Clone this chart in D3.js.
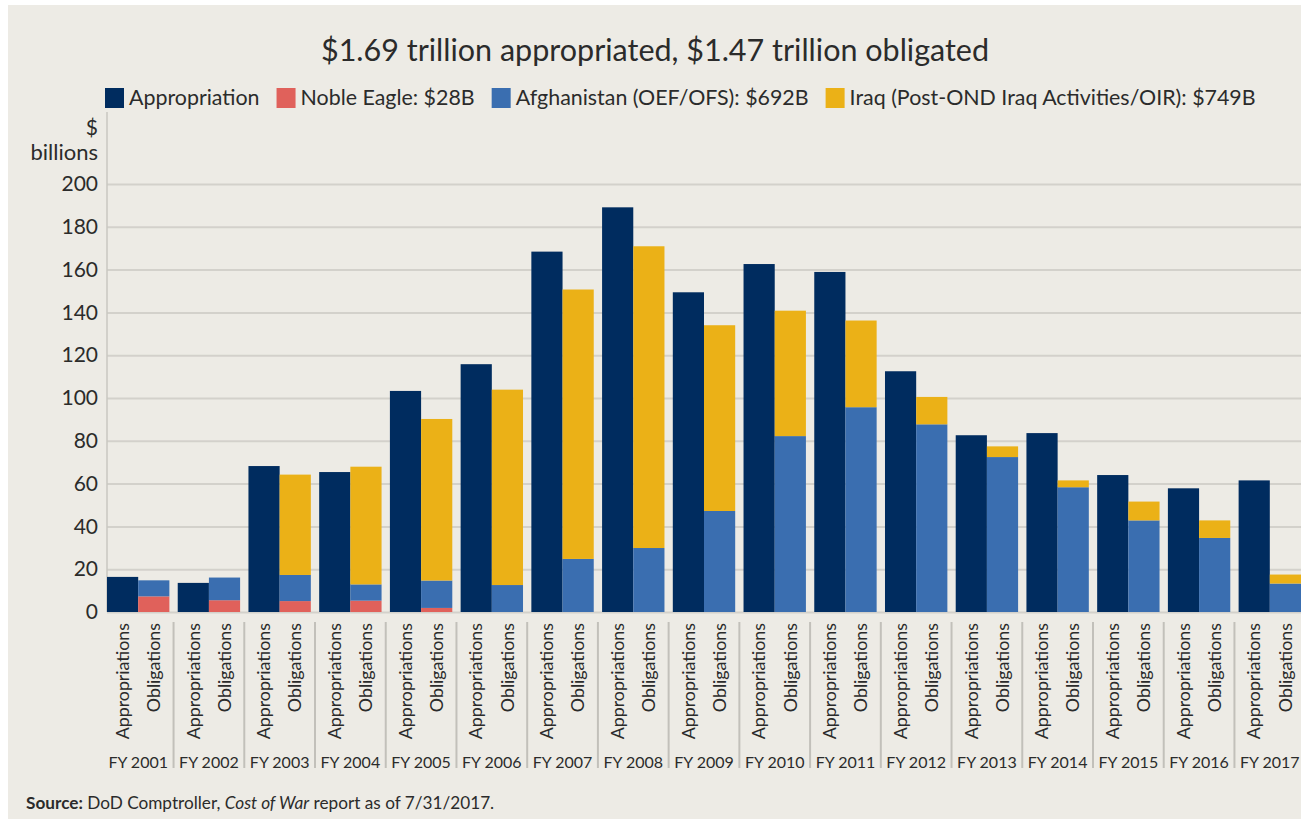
<!DOCTYPE html>
<html>
<head>
<meta charset="utf-8">
<script src="https://cdn.jsdelivr.net/npm/d3@7"></script>
<style>
  body { margin: 0; background: #fff; }
  svg { display: block; }
  text { font-family: Lato, "Open Sans", sans-serif; fill: #2b2b2b; }
</style>
</head>
<body>
<div id="chart"></div>
<script>
// values, $ billions
var years = ["FY 2001", "FY 2002", "FY 2003", "FY 2004", "FY 2005", "FY 2006", "FY 2007", "FY 2008", "FY 2009",
  "FY 2010", "FY 2011", "FY 2012", "FY 2013", "FY 2014", "FY 2015", "FY 2016", "FY 2017"];
var appropriations = [16.4, 13.6, 68.2, 65.4, 103.3, 115.8, 168.4, 189.1, 149.4, 162.6, 158.9, 112.5, 82.6, 83.6, 64.0, 57.8, 61.5];
var nobleEagle = [7.3, 5.5, 5.1, 5.3, 1.9, 0, 0, 0, 0, 0, 0, 0, 0, 0, 0, 0, 0];
var afghanistan = [7.5, 10.6, 12.2, 7.6, 12.8, 12.6, 24.8, 29.9, 47.2, 82.2, 95.7, 87.7, 72.4, 58.3, 42.8, 34.6, 13.3];
var iraq = [0, 0, 46.9, 55.0, 75.5, 91.3, 125.9, 141.0, 86.8, 58.6, 40.5, 12.8, 5.0, 3.2, 8.8, 8.2, 4.2];
var yTicks = [0, 20, 40, 60, 80, 100, 120, 140, 160, 180, 200];
var barNames = ["Appropriations", "Obligations"];
var legendLabels = ["Appropriation", "Noble Eagle: $28B", "Afghanistan (OEF/OFS): $692B", "Iraq (Post-OND Iraq Activities/OIR): $749B"];

var colors = { app: "#002c5f", ne: "#e0615b", afg: "#3a6eb0", iraq: "#ebb117" };
var legendColors = [colors.app, colors.ne, colors.afg, colors.iraq];

var W = 1301, H = 819;
var plotLeft = 107, plotRight = 1301, plotTop = 184, plotBottom = 612;

var svg = d3.select("#chart").append("svg").attr("width", W).attr("height", H);
svg.append("rect").attr("x", 8).attr("y", 5).attr("width", W - 8).attr("height", H - 5).attr("fill", "#edebe5");

var x0 = d3.scaleBand().domain(years).range([plotLeft, plotRight]).paddingInner(0.118).paddingOuter(0);
var x1 = d3.scaleBand().domain(barNames).range([0, x0.bandwidth()]);
var y = d3.scaleLinear().domain([0, 200]).range([plotBottom, plotTop]);

// grid
var grid = svg.append("g").attr("transform", "translate(" + plotLeft + ",0)")
  .call(d3.axisLeft(y).tickValues(yTicks).tickSize(-(plotRight - plotLeft)).tickFormat(""));
grid.select(".domain").remove();
grid.selectAll("line").attr("stroke", "#d3d1cb").attr("stroke-width", 2);

svg.append("line").attr("x1", plotLeft).attr("x2", plotLeft).attr("y1", 112).attr("y2", plotBottom)
  .attr("stroke", "#c9c7c1").attr("stroke-width", 1.5);

var yAxis = svg.append("g").attr("transform", "translate(" + (plotLeft - 9) + ",0)")
  .call(d3.axisLeft(y).tickValues(yTicks).tickSize(0).tickPadding(0));
yAxis.select(".domain").remove();
yAxis.selectAll("text").style("font-size", "21px").attr("fill", "#2b2b2b")
  .style("font-family", "Lato, 'Open Sans', sans-serif");

svg.append("text").attr("x", 98).attr("y", 135).attr("text-anchor", "end").style("font-size", "21px").text("$");
svg.append("text").attr("x", 98).attr("y", 160).attr("text-anchor", "end").style("font-size", "22px").text("billions");

// bars
var groups = svg.append("g").selectAll("g").data(years).enter().append("g")
  .attr("transform", function (d) { return "translate(" + x0(d) + ",0)"; });

groups.append("rect")
  .attr("x", x1("Appropriations"))
  .attr("width", x1.bandwidth())
  .attr("y", function (d, i) { return y(appropriations[i]); })
  .attr("height", function (d, i) { return y(0) - y(appropriations[i]); })
  .attr("fill", colors.app);

var rows = years.map(function (d, i) { return { year: d, ne: nobleEagle[i], afg: afghanistan[i], iraq: iraq[i] }; });
var stacked = d3.stack().keys(["ne", "afg", "iraq"])(rows);

svg.append("g").selectAll("g").data(stacked).enter().append("g")
  .attr("fill", function (s) { return colors[s.key]; })
  .selectAll("rect").data(function (s) { return s; }).enter().append("rect")
  .attr("x", function (d) { return x0(d.data.year) + x1("Obligations"); })
  .attr("width", x1.bandwidth())
  .attr("y", function (d) { return y(d[1]); })
  .attr("height", function (d) { return y(d[0]) - y(d[1]); });

// category labels
groups.selectAll("text.bar").data(barNames).enter().append("text")
  .attr("class", "bar")
  .attr("transform", function (b) { return "translate(" + (x1(b) + x1.bandwidth() / 2) + ",623) rotate(-90)"; })
  .attr("text-anchor", "end")
  .attr("dy", "0.35em")
  .style("font-size", "17.8px")
  .text(function (b) { return b; });

groups.append("text")
  .attr("x", x0.bandwidth() / 2)
  .attr("y", 768)
  .attr("text-anchor", "middle")
  .style("font-size", "16px")
  .text(function (d) { return d; });

var gap = x0.step() - x0.bandwidth();
svg.append("g").selectAll("line").data(years.slice(1)).enter().append("line")
  .attr("x1", function (d) { return x0(d) - gap / 2; })
  .attr("x2", function (d) { return x0(d) - gap / 2; })
  .attr("y1", 622).attr("y2", 768)
  .attr("stroke", "#c2c0ba").attr("stroke-width", 2);

// title
svg.append("text").attr("x", 655).attr("y", 61).attr("text-anchor", "middle")
  .style("font-size", "30.5px").attr("fill", "#222").text("$1.69 trillion appropriated, $1.47 trillion obligated");

// legend
var lx = 105;
legendLabels.forEach(function (label, i) {
  svg.append("rect").attr("x", lx).attr("y", 88).attr("width", 19).attr("height", 20).attr("fill", legendColors[i]);
  var t = svg.append("text").attr("x", lx + 24).attr("y", 98).attr("dy", "0.35em")
    .style("font-size", "21.4px").text(label);
  lx += 24 + t.node().getComputedTextLength() + 17;
});

// source
var src = svg.append("text").attr("x", 26).attr("y", 809).style("font-size", "17.2px");
src.append("tspan").style("font-weight", "bold").text("Source:");
src.append("tspan").text(" DoD Comptroller, ");
src.append("tspan").style("font-style", "italic").text("Cost of War");
src.append("tspan").text(" report as of 7/31/2017.");
</script>
</body>
</html>
